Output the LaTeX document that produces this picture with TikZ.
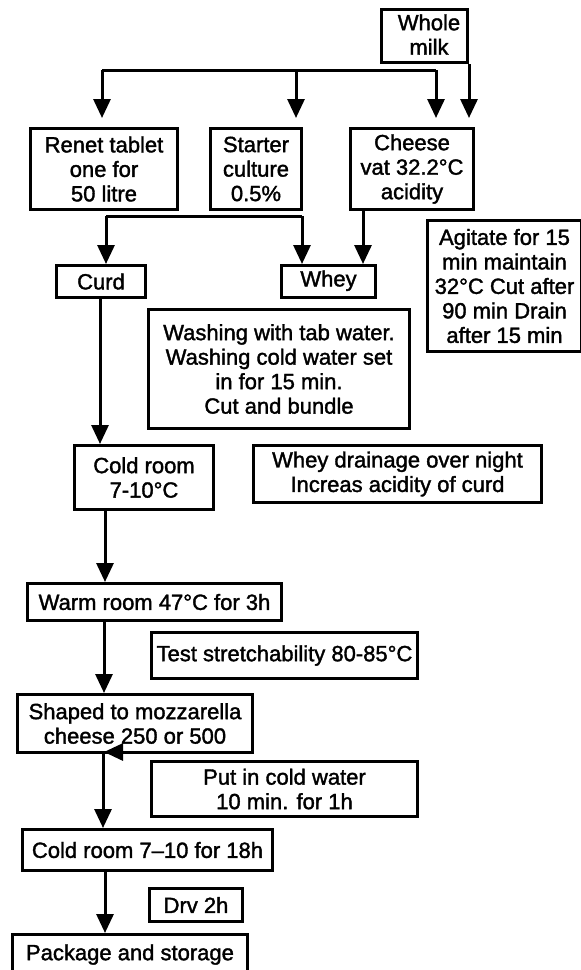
\documentclass[tikz,border=0pt]{standalone}
\usepackage{fontspec}
\setmainfont{Liberation Sans}[UprightFeatures={FakeBold=1.6}]
\usetikzlibrary{arrows.meta}
\begin{document}
\begin{tikzpicture}[x=1pt,y=-1pt,
  box/.style={draw, line width=3pt, inner sep=0pt, align=center, anchor=north west,
    font=\fontsize{22}{24.5}\selectfont},
  txt/.style={inner sep=0pt, align=center, font=\fontsize{22}{24.5}\selectfont},
  ln/.style={line width=3pt},
  arr/.style={line width=3pt, -{Triangle[width=17pt,length=19pt]}}]
\useasboundingbox (0,0) rectangle (581,970);
\fill[white] (0,0) rectangle (581,970);
% boxes
\node[box, minimum width=86pt, minimum height=53pt] (milk) at (380,8) {};
\node[txt] (milktext) at (429,34.5) {Whole\\milk};
\node[box, minimum width=147pt, minimum height=81pt] (renet) at (29,127) {Renet tablet\\one for\\50 litre};
\node[box, minimum width=91pt, minimum height=81pt] (starter) at (209,127) {Starter\\culture\\0.5\%};
\node[box, minimum width=123pt, minimum height=81pt] (cheese) at (349,127) {Cheese\\vat 32.2°C\\acidity};
\node[box, minimum width=154pt, minimum height=131pt] (agitate) at (426,219) {Agitate for 15\\min maintain\\32°C Cut after\\90 min Drain\\after 15 min};
\node[box, minimum width=89pt, minimum height=32pt] (curd) at (55,264) {Curd};
\node[box, minimum width=94pt, minimum height=32pt] (whey) at (280,264) {Whey\strut};
\node[box, minimum width=261pt, minimum height=119pt] (wash) at (147,308) {Washing with tab water.\\Washing cold water set\\in for 15 min.\\Cut and bundle};
\node[box, minimum width=139pt, minimum height=64pt] (cold) at (73,444) {Cold room\\7-10°C};
\node[box, minimum width=288pt, minimum height=57pt] (drain) at (252,444) {Whey drainage over night\\Increas acidity of curd};
\node[box, minimum width=254pt, minimum height=37pt] (warm) at (26,582) {Warm room 47°C for 3h};
\node[box, minimum width=266pt, minimum height=46pt] (test) at (150,631) {Test stretchability 80-85°C};
\node[box, minimum width=235pt, minimum height=58pt] (shaped) at (16,693) {Shaped to mozzarella\\cheese 250 or 500};
\node[box, minimum width=266pt, minimum height=55pt] (put) at (150,760) {Put in cold water\\10 min. for 1h};
\node[box, minimum width=250pt, minimum height=41pt] (cold2) at (21,828) {Cold room 7–10 for 18h};
\node[box, minimum width=93pt, minimum height=33pt] (drv) at (148,887) {Drv 2h};
\node[box, minimum width=235pt, minimum height=40pt] (pack) at (11,933) {Package and storage};
% top distribution bar
\coordinate (b1) at (102,70);
\coordinate (b2) at (296,70);
\coordinate (b3) at (436,70);
\draw[ln] (b1) -- (b3);
\draw[arr, shorten >=9pt] (b1) -- (b1 |- renet.north);
\draw[arr, shorten >=9pt] (b2) -- (b2 |- starter.north);
\draw[arr, shorten >=9pt] (b3) -- (b3 |- cheese.north);
\draw[arr, shorten >=9pt] (milk.south east) -- (milk.south east |- cheese.north);
% curd / whey bar
\coordinate (c1) at (106,216);
\coordinate (c2) at (302,216);
\draw[ln] (c1) -- (c2);
\draw[arr] (c1) -- (c1 |- curd.north);
\draw[arr] (c2) -- (c2 |- whey.north);
\coordinate (cx) at (363,0);
\draw[arr] (cheese.south -| cx) -- (whey.north -| cx);
% main flow
\coordinate (x1) at (100,0);
\coordinate (x2) at (105,0);
\coordinate (x3) at (104,0);
\coordinate (x4) at (103,0);
\draw[arr] (curd.south -| x1) -- (cold.north -| x1);
\draw[arr] (cold.south -| x2) -- (warm.north -| x2);
\draw[arr] (warm.south -| x3) -- (shaped.north -| x3);
\draw[arr] (shaped.south -| x4) -- (cold2.north -| x4);
\draw[arr] (cold2.south -| x2) -- (pack.north -| x2);
% small left-pointing arrowhead
\coordinate (la) at (122,752);
\coordinate (lb) at (104,752);
\draw[arr] (la) -- (lb);
\end{tikzpicture}
\end{document}
